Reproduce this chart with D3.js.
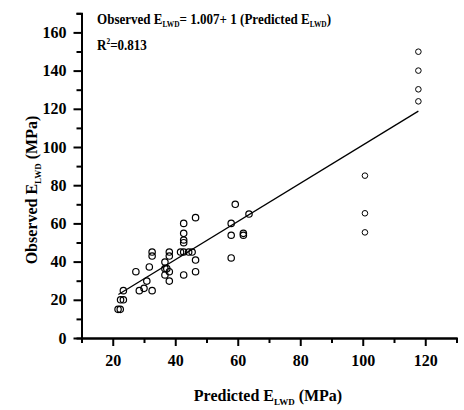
<!DOCTYPE html>
<html>
<head>
<meta charset="utf-8">
<script src="https://cdn.jsdelivr.net/npm/d3@7"></script>
<style>
  html, body { margin: 0; padding: 0; background: #fff; }
  svg { display: block; }
  text { font-family: "Liberation Serif", "Times New Roman", serif; font-weight: bold; fill: #000; }
</style>
</head>
<body>
<svg id="chart" width="464" height="410"></svg>
<script>
// Predicted vs observed LWD modulus (MPa)
const predictedA = [21.7, 22.4, 22.5, 23.4, 23.4, 27.4, 28.5, 30.0, 30.9, 31.7,
                    32.6, 32.6, 32.6, 36.7, 36.7, 36.7, 37.3, 38.1, 38.1, 38.1,
                    38.1, 41.7, 42.7, 42.7, 42.7, 42.7, 42.7, 42.7, 44.3, 45.4,
                    46.5, 46.5, 46.5, 57.9, 57.9, 57.9, 59.2, 61.8, 61.8, 63.6];
const observedA  = [15.0, 15.0, 20.0, 20.0, 24.8, 34.7, 24.8, 26.0, 29.8, 37.2,
                    45.0, 42.9, 24.8, 39.8, 36.3, 33.0, 36.3, 34.7, 45.0, 42.9,
                    29.8, 45.0, 60.0, 54.8, 51.3, 49.9, 45.0, 33.0, 45.0, 45.0,
                    63.0, 40.8, 34.7, 60.0, 53.8, 41.9, 70.0, 54.8, 53.8, 64.9];
const predictedB = [100.7, 100.7, 100.7, 117.8, 117.8, 117.8, 117.8];
const observedB  = [85.0, 65.3, 55.3, 149.9, 140.0, 130.2, 123.9];

// Fitted line: Observed = intercept + slope * Predicted
const intercept = 1.007;
const slope = 1;
const fitRange = [21.8, 117.8];

const xMajor = [20, 40, 60, 80, 100, 120];
const xMinor = [10, 30, 50, 70, 90, 110, 130];
const yMajor = [0, 20, 40, 60, 80, 100, 120, 140, 160];
const yMinor = [10, 30, 50, 70, 90, 110, 130, 150, 170];

const svg = d3.select("#chart");
const x = d3.scaleLinear().domain([10, 130]).range([81.5, 456.5]);
const y = d3.scaleLinear().domain([0, 170]).range([338, 13.3]);

// axes: minor ticks first, then major ticks with labels
function styleAxis(g) {
  g.selectAll("path.domain").attr("stroke", "#000").attr("stroke-width", 2);
  g.selectAll(".tick line").attr("stroke", "#000").attr("stroke-width", 2);
  g.selectAll(".tick text").attr("font-size", 16)
    .attr("font-family", "Liberation Serif, Times New Roman, serif")
    .attr("font-weight", "bold");
}

svg.append("g").attr("transform", "translate(0,338)")
  .call(d3.axisBottom(x).tickValues(xMinor).tickSize(5).tickFormat(""))
  .call(styleAxis);
svg.append("g").attr("transform", "translate(0,338)")
  .call(d3.axisBottom(x).tickValues(xMajor).tickSize(8).tickSizeOuter(0).tickPadding(9).tickFormat(d3.format("d")))
  .call(styleAxis);

svg.append("g").attr("transform", "translate(81.5,0)")
  .call(d3.axisLeft(y).tickValues(yMinor).tickSize(5).tickFormat(""))
  .call(styleAxis);
svg.append("g").attr("transform", "translate(81.5,0)")
  .call(d3.axisLeft(y).tickValues(yMajor).tickSize(8).tickSizeOuter(0).tickPadding(7).tickFormat(d3.format("d")))
  .call(styleAxis);

// regression line
const fitLine = d3.line().x(d => x(d)).y(d => y(intercept + slope * d));
svg.append("path").datum(fitRange)
  .attr("d", fitLine)
  .attr("fill", "none").attr("stroke", "#000").attr("stroke-width", 1.3);

// points
svg.append("g").selectAll("circle")
  .data(predictedA.map((p, i) => [p, observedA[i]]))
  .join("circle")
  .attr("cx", d => x(d[0])).attr("cy", d => y(d[1]))
  .attr("r", 3.2).attr("fill", "none").attr("stroke", "#000").attr("stroke-width", 1.2);

svg.append("g").selectAll("circle")
  .data(predictedB.map((p, i) => [p, observedB[i]]))
  .join("circle")
  .attr("cx", d => x(d[0])).attr("cy", d => y(d[1]))
  .attr("r", 2.8).attr("fill", "none").attr("stroke", "#000").attr("stroke-width", 1);

// equation and R² (slightly condensed bold serif)
const eq = svg.append("text").attr("transform", "translate(97,24) scale(0.87,1)").attr("font-size", 15);
eq.append("tspan").text("Observed E");
eq.append("tspan").attr("font-size", 8.5).attr("dy", 3).text("LWD");
eq.append("tspan").attr("dy", -3).text("= 1.007+ 1 (Predicted E");
eq.append("tspan").attr("font-size", 8.5).attr("dy", 3).text("LWD");
eq.append("tspan").attr("dy", -3).text(")");

const r2 = svg.append("text").attr("transform", "translate(97,50) scale(0.87,1)").attr("font-size", 15);
r2.append("tspan").text("R");
r2.append("tspan").attr("font-size", 8.5).attr("dy", -6).text("2");
r2.append("tspan").attr("dy", 6).text("=0.813");

// axis titles
const xt = svg.append("text").attr("x", 268).attr("y", 401).attr("font-size", 16).attr("text-anchor", "middle");
xt.append("tspan").text("Predicted E");
xt.append("tspan").attr("font-size", 9).attr("dy", 4).text("LWD");
xt.append("tspan").attr("dy", -4).text(" (MPa)");

const yt = svg.append("text").attr("transform", "translate(37,190) rotate(-90)")
  .attr("font-size", 16).attr("text-anchor", "middle");
yt.append("tspan").text("Observed E");
yt.append("tspan").attr("font-size", 9).attr("dy", 4).text("LWD");
yt.append("tspan").attr("dy", -4).text(" (MPa)");
</script>
</body>
</html>
